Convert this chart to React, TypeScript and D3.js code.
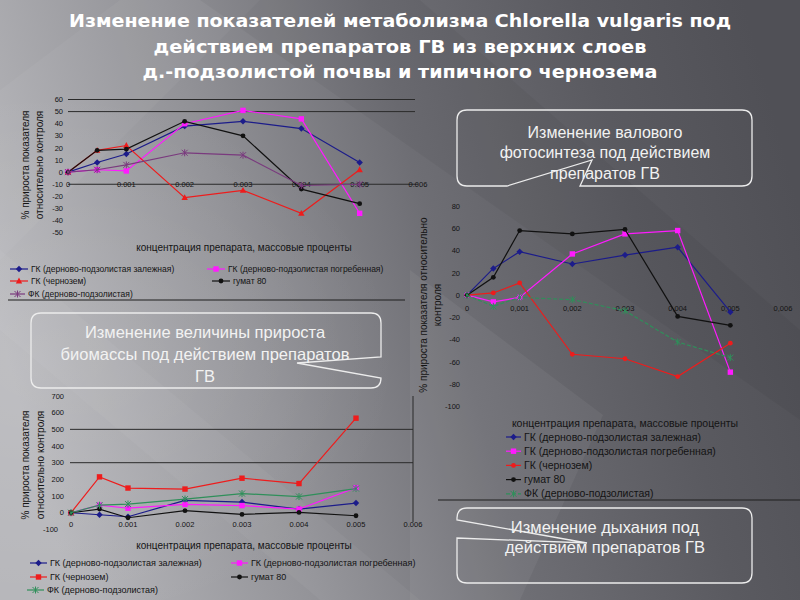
import React from 'react';
import * as d3 from 'd3';

// ---------- DATA ----------
const concentrations = [0, 0.0005, 0.001, 0.002, 0.003, 0.004, 0.005];
const xTickValues = [0, 0.001, 0.002, 0.003, 0.004, 0.005, 0.006];

const seriesNames = [
  'ГК (дерново-подзолистая залежная)',
  'ГК (дерново-подзолистая погребенная)',
  'ГК (чернозем)',
  'гумат 80',
  'ФК (дерново-подзолистая)',
];

// top-left chart
const topBlue = [0, 8, 15, 38, 42, 36, 8];
const topMagenta = [0, 2, 1, 40, 51, 44, -34];
const topRed = [0, 18, 22, -21, -15, -34, 2];
const topBlack = [0, 18, 19, 42, 30, -14, -26];
const topPurple = [0, 2, 6, 16, 14, -11, -10];
const topYTicks = [60, 50, 40, 30, 20, 10, 0, -10, -20, -30, -40, -50];
const topGrid = [60, 50];

// right chart
const rightBlue = [0, 24, 39, 28, 36, 43, -15];
const rightMagenta = [0, -6, -2, 37, 55, 58, -69];
const rightRed = [0, 2, 11, -53, -57, -73, -43];
const rightBlack = [0, 16, 58, 55, 59, -19, -27];
const rightGreen = [0, -10, -2, -4, -14, -42, -56];
const rightYTicks = [80, 60, 40, 20, 0, -20, -40, -60, -80, -100];

// bottom-left chart
const botBlue = [0, -12, -24, 74, 64, 22, 58];
const botMagenta = [0, 46, 27, 50, 43, 22, 150];
const botRed = [0, 215, 148, 142, 207, 175, 567];
const botBlack = [0, 22, -30, 12, -10, 2, -18];
const botGreen = [0, 45, 52, 82, 115, 97, 145];
const botYTicks = [700, 600, 500, 400, 300, 200, 100, 0, -100];
const botGrid = [500, 300];

const titleLines = [
  'Изменение показателей метаболизма Chlorella vulgaris под',
  'действием препаратов ГВ из верхних слоев',
  'д.-подзолистой почвы и типичного чернозема',
];
const xTitle = 'концентрация препарата, массовые проценты';
const yTitle1 = '% прироста показателя';
const yTitle2 = 'относительно контроля';

const FONT = "'Liberation Sans', Arial, sans-serif";
const TXT = '#141414';

type Shape = 'diamond' | 'square' | 'triangle' | 'circle' | 'star';

function Marker({ shape, x, y, color }: { shape: Shape; x: number; y: number; color: string }) {
  if (shape === 'diamond') return <path d={`M${x},${y - 3.2}L${x + 3.2},${y}L${x},${y + 3.2}L${x - 3.2},${y}Z`} fill={color} />;
  if (shape === 'square') return <rect x={x - 2.7} y={y - 2.7} width={5.4} height={5.4} fill={color} />;
  if (shape === 'triangle') return <path d={`M${x},${y - 3.4}L${x + 3.2},${y + 2.4}L${x - 3.2},${y + 2.4}Z`} fill={color} />;
  if (shape === 'circle') return <circle cx={x} cy={y} r={2.4} fill={color} />;
  return (
    <g stroke={color} strokeWidth={1}>
      <line x1={x - 3} y1={y - 3} x2={x + 3} y2={y + 3} />
      <line x1={x - 3} y1={y + 3} x2={x + 3} y2={y - 3} />
      <line x1={x} y1={y - 3.5} x2={x} y2={y + 3.5} />
    </g>
  );
}

type Series = { name: string; values: number[]; color: string; shape: Shape; dash?: string };

function Lines({ series, x, y }: { series: Series[]; x: d3.ScaleLinear<number, number>; y: d3.ScaleLinear<number, number> }) {
  const line = d3.line<number>().x((_, i) => x(concentrations[i])).y((v) => y(v));
  return (
    <g>
      {series.map((s) => (
        <g key={s.name + s.color}>
          <path d={line(s.values) || ''} fill="none" stroke={s.color} strokeWidth={1.2} strokeDasharray={s.dash} />
          {s.values.map((v, i) => (
            <Marker key={i} shape={s.shape} x={x(concentrations[i])} y={y(v)} color={s.color} />
          ))}
        </g>
      ))}
    </g>
  );
}

function LegendItem({ s, x, y, fs, len = 16 }: { s: Series; x: number; y: number; fs: number; len?: number }) {
  return (
    <g>
      <line x1={x} y1={y} x2={x + len} y2={y} stroke={s.color} strokeWidth={1.2} strokeDasharray={s.dash} />
      <Marker shape={s.shape} x={x + len / 2} y={y} color={s.color} />
      <text x={x + len + 3} y={y} dy="0.35em" fontSize={fs} fontFamily={FONT} fill={TXT}>{s.name}</text>
    </g>
  );
}

function YTitle({ cx, cy, lines, fs }: { cx: number[]; cy: number; lines: string[]; fs: number }) {
  return (
    <g>
      {lines.map((l, i) => (
        <text key={i} transform={`translate(${cx[i]},${cy}) rotate(-90)`} textAnchor="middle" dy="0.35em" fontSize={fs} fontFamily={FONT} fill={TXT}>{l}</text>
      ))}
    </g>
  );
}

export default function App() {
  // ---- scales ----
  const xTop = d3.scaleLinear().domain([0, 0.006]).range([68, 418]);
  const yTop = d3.scaleLinear().domain([-50, 60]).range([232.7, 99.5]);
  const xRight = d3.scaleLinear().domain([0, 0.006]).range([467, 783]);
  const yRight = d3.scaleLinear().domain([-100, 80]).range([406.7, 206]);
  const xBot = d3.scaleLinear().domain([0, 0.006]).range([71, 413]);
  const yBot = d3.scaleLinear().domain([-100, 700]).range([529.4, 396]);

  const topSeries: Series[] = [
    { name: seriesNames[0], values: topBlue, color: '#1c1c8a', shape: 'diamond' },
    { name: seriesNames[1], values: topMagenta, color: '#ff1aff', shape: 'square' },
    { name: seriesNames[2], values: topRed, color: '#ee1c1c', shape: 'triangle' },
    { name: seriesNames[3], values: topBlack, color: '#111111', shape: 'circle' },
    { name: seriesNames[4], values: topPurple, color: '#7a3a7e', shape: 'star' },
  ];
  const rightSeries: Series[] = [
    { name: seriesNames[0], values: rightBlue, color: '#1c1c8a', shape: 'diamond' },
    { name: seriesNames[1], values: rightMagenta, color: '#ff1aff', shape: 'square' },
    { name: seriesNames[2], values: rightRed, color: '#ee1c1c', shape: 'circle' },
    { name: seriesNames[3], values: rightBlack, color: '#111111', shape: 'circle' },
    { name: seriesNames[4], values: rightGreen, color: '#2f8f5a', shape: 'star', dash: '4,2' },
  ];
  const botSeries: Series[] = [
    { name: seriesNames[0], values: botBlue, color: '#1c1c8a', shape: 'diamond' },
    { name: seriesNames[1], values: botMagenta, color: '#ff1aff', shape: 'square' },
    { name: seriesNames[2], values: botRed, color: '#ee1c1c', shape: 'square' },
    { name: seriesNames[3], values: botBlack, color: '#111111', shape: 'circle' },
    { name: seriesNames[4], values: botGreen, color: '#2f8f5a', shape: 'star' },
  ];

  const fmtDot = (v: number) => (v === 0 ? '0' : d3.format('.3f')(v));
  const fmtComma = (v: number) => (v === 0 ? '0' : d3.format('.3f')(v).replace('.', ','));

  const calloutStroke = '#ececec';
  const calloutText = '#f2f2f2';

  return (
    <svg width={800} height={600} style={{ position: 'absolute', left: 0, top: 0 }} xmlns="http://www.w3.org/2000/svg">
      <defs>
        <linearGradient id="bg" x1="0" y1="0.55" x2="1" y2="0.35">
          <stop offset="0" stopColor="#b6b6ba" />
          <stop offset="0.3" stopColor="#929297" />
          <stop offset="0.55" stopColor="#6e6e74" />
          <stop offset="0.8" stopColor="#5a5a60" />
          <stop offset="1" stopColor="#505056" />
        </linearGradient>
        <radialGradient id="glow" cx="0.05" cy="0.6" r="0.45">
          <stop offset="0" stopColor="#ffffff" stopOpacity={0.12} />
          <stop offset="1" stopColor="#ffffff" stopOpacity={0} />
        </radialGradient>
      </defs>
      <rect x={0} y={0} width={800} height={600} fill="url(#bg)" />
      <rect x={0} y={0} width={800} height={600} fill="url(#glow)" />
      {/* diagonal streaks */}
      <polygon points="0,90 120,0 260,0 0,260" fill="#ffffff" opacity={0.04} />
      <polygon points="0,330 320,600 420,600 0,250" fill="#ffffff" opacity={0.04} />
      <polygon points="410,270 603,415 520,600 410,600" fill="#ffffff" opacity={0.05} />
      <polygon points="200,0 420,0 800,330 800,420" fill="#000000" opacity={0.04} />

      {/* title */}
      {titleLines.map((t, i) => (
        <text key={i} x={400} y={27 + i * 25.5} textAnchor="middle" fontFamily="'DejaVu Sans', sans-serif" fontWeight="bold" fontSize={18.5} fill="#ffffff"
          textLength={[662, 493, 515][i]} lengthAdjust="spacingAndGlyphs">{t}</text>
      ))}

      {/* ===== top-left chart ===== */}
      {topGrid.map((g) => (
        <line key={g} x1={68} x2={415} y1={yTop(g)} y2={yTop(g)} stroke="#2a2a2a" strokeWidth={1} />
      ))}
      <line x1={68} x2={418} y1={yTop(-10)} y2={yTop(-10)} stroke="#2a2a2a" strokeWidth={1} />
      {topYTicks.map((t) => (
        <text key={t} x={63} y={yTop(t)} dy="0.35em" textAnchor="end" fontSize={7.5} fontFamily={FONT} fill={TXT}>{t}</text>
      ))}
      {xTickValues.map((t) => (
        <text key={t} x={xTop(t)} y={yTop(-10)} dy="0.35em" textAnchor="middle" fontSize={7.5} fontFamily={FONT} fill={TXT}>{fmtDot(t)}</text>
      ))}
      <Lines series={topSeries} x={xTop} y={yTop} />
      <YTitle cx={[25, 39]} cy={165} lines={[yTitle1, yTitle2]} fs={10} />
      <text x={244} y={247} dy="0.35em" textAnchor="middle" fontSize={10} fontFamily={FONT} fill={TXT}>{xTitle}</text>
      <LegendItem s={topSeries[0]} x={10} y={269} fs={8.5} len={18} />
      <LegendItem s={topSeries[1]} x={207} y={269} fs={8.5} len={18} />
      <LegendItem s={topSeries[2]} x={10} y={281} fs={8.5} len={18} />
      <LegendItem s={topSeries[3]} x={212} y={281} fs={8.5} len={18} />
      <LegendItem s={topSeries[4]} x={10} y={294} fs={8.5} len={15} />
      <line x1={8} x2={405} y1={300} y2={300} stroke="#1e1e1e" strokeWidth={1} />

      {/* ===== right chart ===== */}
      {rightYTicks.map((t) => (
        <text key={t} x={460} y={yRight(t)} dy="0.35em" textAnchor="end" fontSize={7.5} fontFamily={FONT} fill={TXT}>{t}</text>
      ))}
      {xTickValues.map((t) => (
        <text key={t} x={xRight(t)} y={308} dy="0.35em" textAnchor="middle" fontSize={7.5} fontFamily={FONT} fill={TXT}>{fmtComma(t)}</text>
      ))}
      <Lines series={rightSeries} x={xRight} y={yRight} />
      <YTitle cx={[423, 437]} cy={305} lines={[yTitle1 + ' относительно', 'контроля']} fs={10} />
      <text x={625} y={423} dy="0.35em" textAnchor="middle" fontSize={10.5} fontFamily={FONT} fill={TXT}>{xTitle}</text>
      {rightSeries.map((s, i) => (
        <LegendItem key={i} s={s} x={506} y={437 + i * 14.2} fs={10.5} len={15} />
      ))}
      <line x1={438} x2={800} y1={500} y2={500} stroke="#1e1e1e" strokeWidth={1} />

      {/* ===== bottom-left chart ===== */}
      {botGrid.map((g) => (
        <line key={g} x1={70} x2={413} y1={yBot(g)} y2={yBot(g)} stroke="#2a2a2a" strokeWidth={1} />
      ))}
      <line x1={413} x2={413} y1={396} y2={522} stroke="#2a2a2a" strokeWidth={1} />
      {botYTicks.map((t) => (
        <text key={t} x={t < 0 ? 58 : 64} y={yBot(t)} dy="0.35em" textAnchor="end" fontSize={7.5} fontFamily={FONT} fill={TXT}>{t}</text>
      ))}
      {xTickValues.map((t) => (
        <text key={t} x={xBot(t)} y={524} dy="0.35em" textAnchor="middle" fontSize={7.5} fontFamily={FONT} fill={TXT}>{fmtDot(t)}</text>
      ))}
      <Lines series={botSeries} x={xBot} y={yBot} />
      <YTitle cx={[25, 40]} cy={465} lines={[yTitle1, yTitle2]} fs={10} />
      <text x={244} y={545} dy="0.35em" textAnchor="middle" fontSize={10} fontFamily={FONT} fill={TXT}>{xTitle}</text>
      <LegendItem s={botSeries[0]} x={30} y={563} fs={9} len={17} />
      <LegendItem s={botSeries[1]} x={231} y={563} fs={9} len={17} />
      <LegendItem s={botSeries[2]} x={30} y={577} fs={9} len={17} />
      <LegendItem s={botSeries[3]} x={231} y={577} fs={9} len={17} />
      <LegendItem s={botSeries[4]} x={27} y={590} fs={9} len={17} />

      {/* ===== callouts ===== */}
      <path d="M580,186 L742,186 Q752,186 752,176 L752,120 Q752,110 742,110 L467,110 Q457,110 457,120 L457,176 Q457,186 467,186 L507,186 L592,160 Z"
        fill="none" stroke={calloutStroke} strokeWidth={1.3} />
      {['Изменение валового', 'фотосинтеза под действием', 'препаратов ГВ'].map((t, i) => (
        <text key={i} x={605} y={132 + i * 20.5} dy="0.35em" textAnchor="middle" fontSize={16} fontFamily={FONT} fill={calloutText}>{t}</text>
      ))}

      <path d="M381,378 L381,378 Q381,388 371,388 L41,388 Q31,388 31,378 L31,323 Q31,313 41,313 L371,313 Q381,313 381,323 L381,357 L297,363 Z"
        fill="none" stroke={calloutStroke} strokeWidth={1.3} />
      {['Изменение величины прироста', 'биомассы под действием препаратов', 'ГВ'].map((t, i) => (
        <text key={i} x={205} y={332 + i * 22} dy="0.35em" textAnchor="middle" fontSize={16.5} fontFamily={FONT} fill={calloutText}>{t}</text>
      ))}

      <path d="M457,538 L457,573 Q457,583 467,583 L742,583 Q752,583 752,573 L752,518 Q752,508 742,508 L467,508 Q457,508 457,518 L457,520 L587,543 Z"
        fill="none" stroke={calloutStroke} strokeWidth={1.3} />
      {['Изменение дыхания под', 'действием препаратов ГВ'].map((t, i) => (
        <text key={i} x={605} y={527 + i * 20.5} dy="0.35em" textAnchor="middle" fontSize={16.5} fontFamily={FONT} fill={calloutText}>{t}</text>
      ))}
    </svg>
  );
}
